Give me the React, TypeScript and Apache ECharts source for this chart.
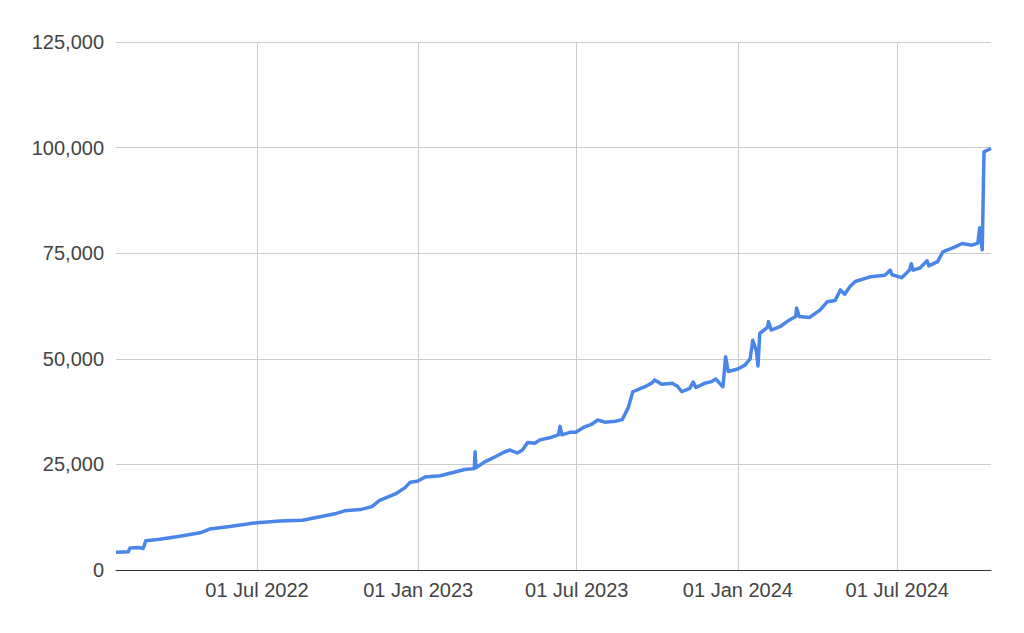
import React, { useEffect, useRef } from "react";
import * as echarts from "echarts";

const dates: string[] = [
  "2022-01-21", "2022-02-04", "2022-02-06", "2022-02-17", "2022-02-21", "2022-02-24",
  "2022-03-12", "2022-04-04", "2022-04-27", "2022-05-08", "2022-05-31", "2022-07-01",
  "2022-07-27", "2022-08-22", "2022-09-11", "2022-09-28", "2022-10-09", "2022-10-27",
  "2022-11-09", "2022-11-18", "2022-12-06", "2022-12-17", "2022-12-23", "2022-12-31",
  "2023-01-09", "2023-01-26", "2023-02-12", "2023-02-23", "2023-03-06", "2023-03-07",
  "2023-03-08", "2023-03-18", "2023-03-30", "2023-04-10", "2023-04-16", "2023-04-24",
  "2023-04-30", "2023-05-06", "2023-05-14", "2023-05-20", "2023-05-31", "2023-06-10",
  "2023-06-12", "2023-06-14", "2023-06-23", "2023-06-30", "2023-07-10", "2023-07-18",
  "2023-07-25", "2023-08-02", "2023-08-14", "2023-08-22", "2023-08-29", "2023-09-03",
  "2023-09-17", "2023-09-25", "2023-09-28", "2023-10-06", "2023-10-18", "2023-10-24",
  "2023-10-29", "2023-11-07", "2023-11-11", "2023-11-14", "2023-11-24", "2023-12-02",
  "2023-12-07", "2023-12-12", "2023-12-15", "2023-12-18", "2023-12-21", "2024-01-01",
  "2024-01-09", "2024-01-15", "2024-01-18", "2024-01-22", "2024-01-24", "2024-01-26",
  "2024-02-04", "2024-02-05", "2024-02-08", "2024-02-18", "2024-02-29", "2024-03-07",
  "2024-03-08", "2024-03-11", "2024-03-23", "2024-04-04", "2024-04-12", "2024-04-21",
  "2024-04-27", "2024-05-02", "2024-05-08", "2024-05-14", "2024-05-31", "2024-06-17",
  "2024-06-23", "2024-06-25", "2024-07-06", "2024-07-15", "2024-07-17", "2024-07-19",
  "2024-07-27", "2024-08-04", "2024-08-06", "2024-08-16", "2024-08-22", "2024-09-05",
  "2024-09-13", "2024-09-24", "2024-10-01", "2024-10-03", "2024-10-06", "2024-10-08",
  "2024-10-13", "2024-10-16",
];

const values: number[] = [
  4200, 4300, 5200, 5300, 5100, 6900,
  7300, 8000, 8800, 9700, 10300, 11200,
  11600, 11800, 12600, 13300, 14000, 14300,
  15000, 16500, 18000, 19500, 20800, 21000,
  22000, 22300, 23200, 23800, 24000, 28000,
  24200, 25600, 26800, 28000, 28400, 27700,
  28400, 30200, 30000, 30800, 31300, 32000,
  34000, 32000, 32600, 32600, 33900, 34500,
  35500, 35000, 35200, 35600, 38500, 42200,
  43400, 44300, 45000, 44000, 44200, 43500,
  42200, 43000, 44500, 43200, 44200, 44600,
  45200, 44000, 43400, 50500, 47000, 47600,
  48500, 50000, 54400, 52000, 48300, 56000,
  57500, 58800, 56800, 57600, 59200, 60000,
  62000, 60000, 59800, 61600, 63500, 63800,
  66300, 65300, 67100, 68300, 69400, 69800,
  71000, 69900, 69200, 71000, 72500, 71000,
  71500, 73200, 72000, 73000, 75300, 76500,
  77300, 76900, 77400, 81000, 75800, 99000,
  99500, 99800,
];

const xTickDates: string[] = ["2022-07-01", "2023-01-01", "2023-07-01", "2024-01-01", "2024-07-01"];
const yTicks: number[] = [0, 25000, 50000, 75000, 100000, 125000];

const monthNames = ["Jan", "Feb", "Mar", "Apr", "May", "Jun", "Jul", "Aug", "Sep", "Oct", "Nov", "Dec"];

function ts(d: string): number {
  const [y, m, dd] = d.split("-").map(Number);
  return Date.UTC(y, m - 1, dd);
}

export default function App() {
  const ref = useRef<HTMLDivElement>(null);
  useEffect(() => {
    if (!ref.current) return;
    const chart = echarts.init(ref.current, null, { renderer: "svg" });
    const data = dates.map((d, i) => [ts(d), values[i]]);
    chart.setOption({
      animation: false,
      backgroundColor: "#ffffff",
      grid: { left: 116, right: 33, top: 42, bottom: 63, containLabel: false },
      xAxis: {
        type: "value",
        min: ts(dates[0]),
        max: ts(dates[dates.length - 1]),
        axisLine: { show: true, lineStyle: { color: "#333333", width: 1 } },
        axisTick: { show: false, customValues: xTickDates.map(ts) },
        axisLabel: {
          customValues: xTickDates.map(ts),
          fontFamily: "Liberation Sans, Arial, sans-serif",
          fontSize: 20,
          color: "#444444",
          margin: 10,
          formatter: (v: number) => {
            const d = new Date(v);
            const day = String(d.getUTCDate()).padStart(2, "0");
            return `${day} ${monthNames[d.getUTCMonth()]} ${d.getUTCFullYear()}`;
          },
        },
        splitLine: { show: true, lineStyle: { color: "#cccccc", width: 1 } },
      },
      yAxis: {
        type: "value",
        min: yTicks[0],
        max: yTicks[yTicks.length - 1],
        interval: 25000,
        axisLine: { show: false },
        axisTick: { show: false },
        axisLabel: {
          fontFamily: "Liberation Sans, Arial, sans-serif",
          fontSize: 20,
          color: "#444444",
          margin: 12,
          formatter: (v: number) => v.toLocaleString("en-US"),
        },
        splitLine: { show: true, lineStyle: { color: "#cccccc", width: 1 } },
      },
      series: [
        {
          type: "line",
          data,
          showSymbol: false,
          symbol: "none",
          lineStyle: { color: "#4a86e8", width: 3.5, join: "round" },
          itemStyle: { color: "#4a86e8" },
          z: 3,
        },
      ],
    });
    return () => chart.dispose();
  }, []);
  return (
    <div
      ref={ref}
      style={{ position: "absolute", left: 0, top: 0, width: 1024, height: 633 }}
    />
  );
}
